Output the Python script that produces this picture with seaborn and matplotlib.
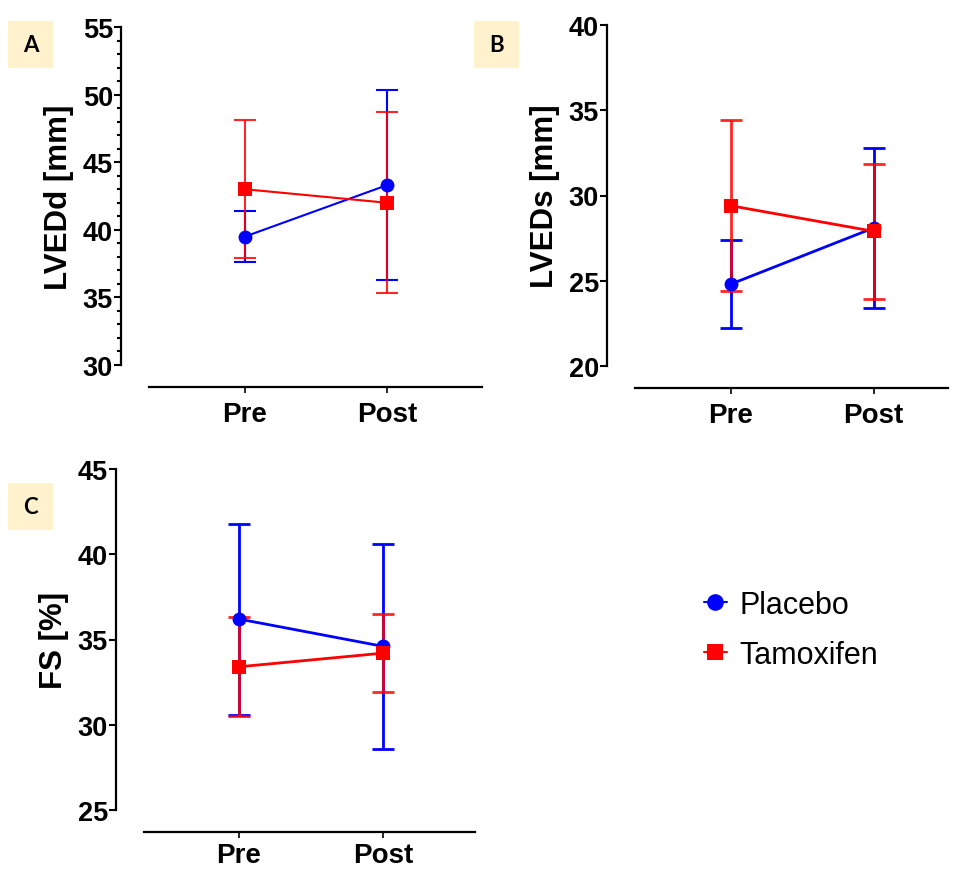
import pandas as pd
import matplotlib.pyplot as plt
from matplotlib.lines import Line2D
from matplotlib.patches import Rectangle
from matplotlib.ticker import MultipleLocator
import seaborn as sns

# values (mean and SD)
timepoints = ['Pre', 'Post']
groups = ['Placebo', 'Tamoxifen']

lvedd_placebo_mean = [39.5, 43.3]
lvedd_placebo_sd = [1.9, 7.05]
lvedd_tamox_mean = [43.0, 42.0]
lvedd_tamox_sd = [5.1, 6.7]

lveds_placebo_mean = [24.8, 28.1]
lveds_placebo_sd = [2.6, 4.7]
lveds_tamox_mean = [29.4, 27.9]
lveds_tamox_sd = [5.0, 3.95]

fs_placebo_mean = [36.2, 34.6]
fs_placebo_sd = [5.6, 6.0]
fs_tamox_mean = [33.4, 34.2]
fs_tamox_sd = [2.9, 2.3]

sns.set_style('ticks')
plt.rcParams['font.family'] = ['Liberation Sans', 'DejaVu Sans']
for key in ['text.color', 'axes.labelcolor', 'xtick.color', 'ytick.color', 'axes.edgecolor']:
    plt.rcParams[key] = 'black'

palette = {'Placebo': '#0000FF', 'Tamoxifen': '#FF0000'}
markers = {'Placebo': 'o', 'Tamoxifen': 's'}

W, H = 957, 870
fig = plt.figure(figsize=(W / 100, H / 100), dpi=100)


def make_df(p_mean, p_sd, t_mean, t_sd):
    rows = []
    for g, m, s in [('Placebo', p_mean, p_sd), ('Tamoxifen', t_mean, t_sd)]:
        for tp, mv, sv in zip(timepoints, m, s):
            rows.append({'time': tp, 'group': g, 'mean': mv, 'sd': sv})
    return pd.DataFrame(rows)


def add_panel(box, df, ylim, step, ylabel, xlim, minor=None, lw=1.5, xpad=6):
    x0, x1, ytop, ybot = box
    ax = fig.add_axes([x0 / W, (H - ybot) / H, (x1 - x0) / W, (ybot - ytop) / H])
    sns.lineplot(data=df, x='time', y='mean', hue='group', style='group',
                 markers=markers, dashes=False, palette=palette, sort=False,
                 markersize=10, markeredgewidth=0, linewidth=lw, legend=False,
                 ax=ax, zorder=3)
    for g in groups:
        sub = df[df['group'] == g]
        ax.errorbar(sub['time'], sub['mean'], yerr=sub['sd'], fmt='none',
                    ecolor=palette[g], elinewidth=lw, capsize=8, capthick=lw,
                    alpha=0.85 if g == 'Tamoxifen' else 1, zorder=2)
    ax.set_ylim(*ylim)
    ax.set_xlim(*xlim)
    ax.yaxis.set_major_locator(MultipleLocator(step))
    if minor:
        ax.yaxis.set_minor_locator(MultipleLocator(minor))
        ax.tick_params(axis='y', which='minor', length=3, width=1.5)
    sns.despine(ax=ax)
    ax.spines['left'].set_position(('outward', 20))
    ax.spines['bottom'].set_position(('outward', 16))
    for s in ['left', 'bottom']:
        ax.spines[s].set_linewidth(1.6)
    ax.tick_params(axis='y', which='major', length=5, width=1.5)
    ax.tick_params(axis='x', which='major', length=4, width=1.2)
    ax.tick_params(axis='y', labelsize=19.5, pad=1)
    ax.tick_params(axis='x', labelsize=20, pad=xpad)
    for lab in ax.get_xticklabels() + ax.get_yticklabels():
        lab.set_fontweight('bold')
    ax.set_xlabel('')
    ax.set_ylabel(ylabel, fontsize=22.5, fontweight='bold', labelpad=6)
    return ax


def add_letter(x, y, letter):
    fig.patches.append(Rectangle((x / W, (H - y - 47) / H), 45 / W, 47 / H,
                                 transform=fig.transFigure, facecolor='#FFF2CC',
                                 edgecolor='none', zorder=0))
    fig.text((x + 22.5) / W, (H - y - 23.5) / H, letter, ha='center', va='center',
             fontsize=16, fontweight='bold', family=['Lato', 'DejaVu Sans'])


df_a = make_df(lvedd_placebo_mean, lvedd_placebo_sd, lvedd_tamox_mean, lvedd_tamox_sd)
df_b = make_df(lveds_placebo_mean, lveds_placebo_sd, lveds_tamox_mean, lveds_tamox_sd)
df_c = make_df(fs_placebo_mean, fs_placebo_sd, fs_tamox_mean, fs_tamox_sd)

add_panel((149, 482, 28, 366), df_a, (30, 55), 5, 'LVEDd [mm]', (-0.676, 1.67), minor=1)
add_panel((635, 948, 26, 367), df_b, (20, 40), 5, 'LVEDs [mm]', (-0.67, 1.52), lw=2)
add_panel((144, 475, 470, 811), df_c, (25, 45), 5, 'FS [%]', (-0.66, 1.64), lw=2, xpad=3)

add_letter(8, 22, 'A')
add_letter(474, 22, 'B')
add_letter(8, 484, 'C')

handles = [Line2D([], [], color=palette[g], marker=markers[g], markersize=12,
                  linewidth=1.5, markeredgewidth=0) for g in groups]
fig.legend(handles, groups, loc='upper left', bbox_to_anchor=(704 / W, (H - 591) / H),
           frameon=False, fontsize=22, handlelength=0.75, handletextpad=0.4,
           labelspacing=0.65, borderpad=0, borderaxespad=0)

fig.savefig('out.png', dpi=100)
